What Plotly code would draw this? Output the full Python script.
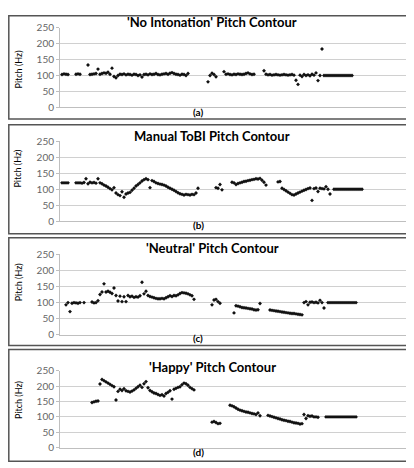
import plotly.graph_objects as go

N = None
titles = ["'No Intonation' Pitch Contour", "Manual ToBI Pitch Contour",
          "'Neutral' Pitch Contour", "'Happy' Pitch Contour"]
captions = ["(a)", "(b)", "(c)", "(d)"]
y_ticks = [0, 50, 100, 150, 200, 250]

pitch_a = [103,105,104,103,N,N,N,104,105,104,N,N,N,133,
           103,104,105,106,120,104,106,108,107,110,104,123,97,93,100,104,103,105,102,104,
           103,101,104,103,100,102,95,103,104,102,105,103,104,106,103,102,104,105,106,104,
           107,109,106,104,103,101,104,103,100,106,
           N,N,N,N,N,N,N,N,N,
           80,100,107,103,96,N,N,N,112,
           104,105,103,102,104,103,105,104,103,104,106,108,105,103,104,
           N,N,N,N,115,
           104,102,103,101,102,103,102,101,102,103,102,101,102,103,101,
           85,72,101,97,103,100,102,99,104,101,108,84,100,183,
           100,100,100,100,100,100,100,100,100,100,100,100,100,100,100]

pitch_b = [120,120,120,120,N,N,N,120,120,120,119,121,133,
           117,122,120,121,119,133,120,117,113,110,106,102,98,105,88,83,80,92,75,85,88,90,
           97,103,110,115,120,126,130,133,130,105,127,124,120,118,116,115,113,110,106,103,
           100,97,93,89,86,84,82,84,83,82,84,83,88,103,
           N,N,N,N,N,N,N,N,105,103,115,98,N,N,N,N,
           122,120,115,118,120,122,124,125,127,128,130,131,133,132,134,128,122,113,
           N,N,N,N,N,123,124,
           103,99,95,91,87,83,82,85,88,91,94,97,99,102,104,65,102,104,93,103,102,101,108,100,85,N,
           100,100,100,100,100,100,100,100,100,100,100,100,100,100,100]

pitch_c = [N,N,93,100,72,98,100,99,98,100,N,100,N,N,N,
           102,99,100,106,125,133,158,133,135,132,128,145,122,105,120,103,118,103,122,118,
           120,116,118,117,121,163,127,135,122,119,117,115,113,112,112,113,112,115,118,121,
           119,122,121,124,128,131,130,129,127,124,121,110,
           N,N,N,N,N,N,N,N,93,108,110,103,98,N,N,N,N,N,N,
           68,90,89,87,85,84,83,82,81,80,78,77,78,97,N,N,N,N,
           77,76,75,74,73,72,71,70,69,68,67,66,66,65,64,63,62,
           100,103,93,101,102,100,101,99,107,100,83,N,
           100,100,100,100,100,100,100,100,100,100,100,100,100,100,100]

pitch_d = [N,N,N,N,N,N,N,N,N,N,N,N,N,N,N,
           147,149,151,152,207,222,218,214,210,206,202,198,155,183,190,186,192,185,183,181,
           184,188,193,198,203,196,208,215,195,186,182,178,176,173,170,172,168,176,180,185,
           158,190,193,196,198,205,210,208,203,196,192,188,
           N,N,N,N,N,N,N,N,83,85,82,78,79,N,N,N,N,
           138,136,133,129,125,122,120,118,116,115,113,111,110,108,113,104,N,N,N,
           105,103,101,99,97,95,93,91,89,88,86,85,83,81,80,79,77,78,
           108,95,104,102,103,100,100,99,N,N,N,
           100,100,100,100,100,100,100,100,100,100,100,100,100,100,100,100]

series = [pitch_a, pitch_b, pitch_c, pitch_d]

W, H = 414, 468
OFF = 8  # page body margin offset of the figure in the browser window


def fx(px):
    return (px - OFF) / W


def fy(py):
    return 1 - (py - OFF) / H


# viewport pixel layout: (plot top = 250 Hz, plot bottom = 0 Hz, box top, box bottom)
panels_px = [(21, 103, 8.7, 115), (138, 220, 121, 233), (254, 337, 237, 348), (374, 453, 352, 467)]
title_px = [15, 132, 248, 370]
caption_px = [108, 224, 340, 457]
ylabel_px = [64, 166, 283, 404]

fig = go.Figure()
layout = dict(width=W, height=H, margin=dict(l=0, r=0, t=0, b=0),
              paper_bgcolor="white", plot_bgcolor="white", showlegend=False,
              font=dict(family="Lato, Open Sans, sans-serif", color="#000"))
shapes, annots = [], []
plot_left = 60
for i, (vals, (pt, pb, bt, bb)) in enumerate(zip(series, panels_px)):
    k = "" if i == 0 else str(i + 1)
    fig.add_trace(go.Scatter(x=list(range(len(vals))), y=vals, mode="markers",
                             marker=dict(symbol="diamond", size=3, color="#111"),
                             xaxis="x" + k, yaxis="y" + k, cliponaxis=False))
    layout["xaxis" + k] = dict(domain=[fx(plot_left), 1],
                               range=[-1, -1 + (W - (plot_left - OFF)) / 2], anchor="y" + k,
                               showticklabels=False, showgrid=False, zeroline=False,
                               showline=True, linecolor="#bfbfbf", linewidth=1)
    layout["yaxis" + k] = dict(domain=[fy(pb), fy(pt)], range=[0, 250],
                               tickvals=y_ticks, anchor="x" + k,
                               showgrid=True, gridcolor="#d0d0d0", gridwidth=1,
                               zeroline=False, showline=True, linecolor="#bfbfbf",
                               ticks="outside", ticklen=3, tickcolor="#bfbfbf",
                               tickfont=dict(size=10, color="#666666"))
    shapes.append(dict(type="rect", xref="paper", yref="paper",
                       x0=fx(8.8), x1=1.05, y0=fy(bb), y1=fy(bt),
                       line=dict(color="#555555", width=1.5)))
    annots.append(dict(text="<b>" + titles[i] + "</b>", xref="paper", yref="paper",
                       x=fx(212), y=fy(title_px[i]), showarrow=False,
                       xanchor="center", yanchor="middle",
                       font=dict(size=13, color="#000")))
    annots.append(dict(text="<b>" + captions[i] + "</b>", xref="paper", yref="paper",
                       x=fx(198), y=fy(caption_px[i]), showarrow=False,
                       xanchor="center", yanchor="middle",
                       font=dict(size=10, color="#000")))
    annots.append(dict(text="Pitch (Hz)", xref="paper", yref="paper", textangle=-90,
                       x=fx(18), y=fy(ylabel_px[i]), showarrow=False,
                       xanchor="center", yanchor="middle",
                       font=dict(size=9, color="#000")))
layout["shapes"] = shapes
layout["annotations"] = annots
fig.update_layout(**layout)
fig.write_html("out.html")
